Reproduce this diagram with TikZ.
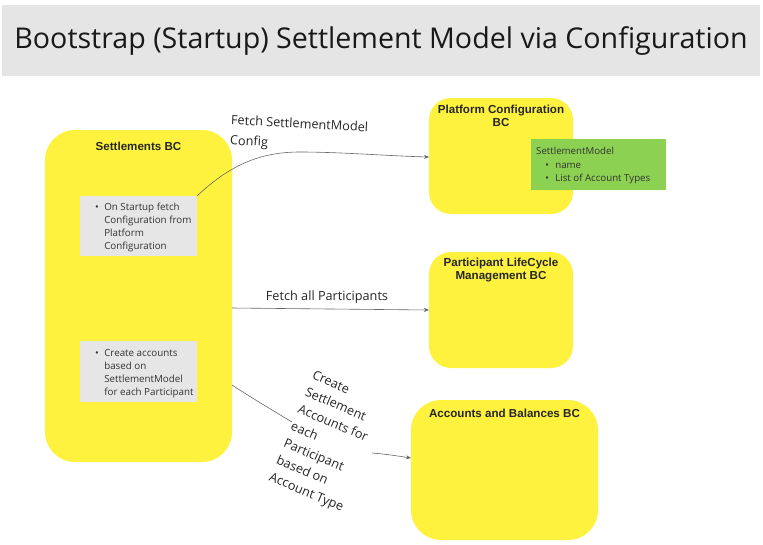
\documentclass[tikz,border=0pt]{standalone}
\usepackage{fontspec}
\setmainfont{Open Sans}
\newfontfamily\boxfont{Liberation Sans}
\usetikzlibrary{arrows.meta}
\definecolor{bcyellow}{HTML}{FFF23E}
\definecolor{notegrey}{HTML}{E6E6E6}
\definecolor{titlegrey}{HTML}{E5E5E5}
\definecolor{notegreen}{HTML}{8CD152}
\tikzset{
  bctitle/.style={font=\boxfont\bfseries\fontsize{11.6}{13.5}\selectfont, text=black!85, align=center},
  notetext/.style={font=\fontsize{9.8}{13}\selectfont, text=black!80, align=left, anchor=north west, inner sep=0pt},
  conn/.style={draw=black!60, line width=0.6pt, -{Stealth[length=5pt,width=4pt]}},
  plainline/.style={draw=black!60, line width=0.6pt},
  lbl/.style={font=\fontsize{12.7}{19}\selectfont, text=black!85, align=left}
}
\begin{document}
\begin{tikzpicture}[x=1pt,y=-1pt]
\useasboundingbox (0,0) rectangle (763,544);
\fill[white] (0,0) rectangle (763,544);
% title
\fill[titlegrey] (2,5) rectangle (760,76);
\node[font=\fontsize{28.6}{34}\selectfont, text=black!90] (title) at (381,41) {Bootstrap (Startup) Settlement Model via Configuration};
% settlements BC
\fill[bcyellow, rounded corners=30pt] (45,130) rectangle (232,462);
\coordinate (setR) at (232,308);
\node[bctitle] (settitle) at (138.5,146) {Settlements BC};
\fill[notegrey] (80,196) rectangle (197,256);
\coordinate (note1ne) at (197,196);
\node[notetext] (note1) at (95,203) {\textbullet\hspace{0.55em}\parbox[t]{100pt}{\raggedright On Startup fetch\\Configuration from\\Platform\\Configuration}};
\fill[notegrey] (80,341) rectangle (197,402);
\coordinate (note2e) at (232,385);
\node[notetext] (note2) at (95,349) {\textbullet\hspace{0.55em}\parbox[t]{100pt}{\raggedright Create accounts\\based on\\SettlementModel\\for each Participant}};
% platform config
\fill[bcyellow, rounded corners=22pt] (429,98) rectangle (573,214);
\coordinate (pcW) at (429,157);
\node[bctitle] (pctitle) at (501,116) {Platform Configuration\\BC};
\fill[notegreen] (531,139) rectangle (666,190);
\node[notetext, font=\fontsize{9.7}{13.5}\selectfont] (green) at (536,147) {SettlementModel\\\hspace*{0.95em}\textbullet\hspace{0.65em}name\\\hspace*{0.95em}\textbullet\hspace{0.65em}List of Account Types};
% participant LCM
\fill[bcyellow, rounded corners=22pt] (429,252) rectangle (573,368);
\coordinate (plW) at (429,310);
\node[bctitle] (pltitle) at (501,270) {Participant LifeCycle\\Management BC};
% accounts and balances
\fill[bcyellow, rounded corners=30pt] (411,400) rectangle (598,540);
\coordinate (abW) at (411,458);
\node[bctitle] (abtitle) at (504.5,413) {Accounts and Balances BC};
% connectors
\draw[conn] (note1ne) .. controls (230,165) and (260,152) .. (300,152) .. controls (340,152) and (390,156) .. (pcW);
\node[lbl, rotate=-3, anchor=south west, font=\fontsize{12.7}{20}\selectfont] (l1) at (226,151) {Fetch SettlementModel\\Config};
\draw[conn] (setR) -- (plW);
\node[lbl] (l2) at (327,297) {Fetch all Participants};
\coordinate (l3s) at (292,422);
\draw[plainline] (note2e) .. controls (252,398) and (272,410) .. (l3s);
\coordinate (l3e) at (372,453);
\draw[conn] (l3e) .. controls (385,454) and (398,456) .. (abW);
\node[lbl, rotate=-23, anchor=north west, inner sep=0pt, font=\fontsize{12.7}{18.4}\selectfont] (l3) at (315,370) {Create\\Settlement\\Accounts for\\each\\Participant\\based on\\Account Type};
\end{tikzpicture}
\end{document}
